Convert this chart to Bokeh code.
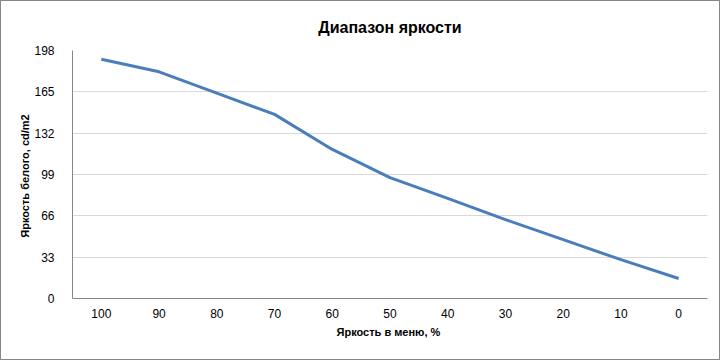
from bokeh.plotting import figure
from bokeh.embed import file_html
from bokeh.resources import INLINE
from bokeh.models import FactorRange, Range1d, FixedTicker, Title

# Data
menu_brightness = ["100", "90", "80", "70", "60", "50", "40", "30", "20", "10", "0"]
white_luminance = [191, 181, 164, 147, 119, 96.5, 80, 63, 47, 31, 16]
y_ticks = [0, 33, 66, 99, 132, 165, 198]

FONT = "Liberation Sans"

p = figure(width=720, height=360, output_backend="svg", toolbar_location=None,
           x_range=FactorRange(factors=menu_brightness, range_padding=0),
           y_range=Range1d(0, 198),
           min_border_left=71, min_border_right=14, min_border_top=49, min_border_bottom=63,
           styles={"border": "1px solid #868686", "box-sizing": "border-box"})

p.title = Title(text="Диапазон яркости", align="center", text_font=FONT,
                text_font_size="16px", text_font_style="bold", text_color="#000000",
                offset=0, standoff=30)

p.line(x=menu_brightness, y=white_luminance, line_color="#4A7EBB", line_width=3)

p.outline_line_color = None
p.background_fill_color = "white"
p.border_fill_color = "white"

p.xgrid.grid_line_color = None
p.ygrid.grid_line_color = "#D9D9D9"
p.ygrid.grid_line_width = 1

p.yaxis.ticker = FixedTicker(ticks=y_ticks)
for ax in (p.xaxis[0], p.yaxis[0]):
    ax.axis_line_color = "#868686"
    ax.major_tick_line_color = None
    ax.minor_tick_line_color = None
    ax.major_label_text_font = FONT
    ax.major_label_text_font_size = "12px"
    ax.major_label_text_color = "#000000"
    ax.axis_label_text_font = FONT
    ax.axis_label_text_font_size = "11px"
    ax.axis_label_text_font_style = "bold"
    ax.axis_label_text_color = "#000000"

p.yaxis.axis_label = "Яркость  белого, cd/m2"
p.xaxis.axis_label = "Яркость  в меню, %"
p.yaxis.major_label_standoff = 12
p.xaxis.major_label_standoff = 4
p.xaxis.axis_label_standoff = 5
p.yaxis.axis_label_standoff = 0

open("out.html", "w").write(file_html(p, INLINE))
